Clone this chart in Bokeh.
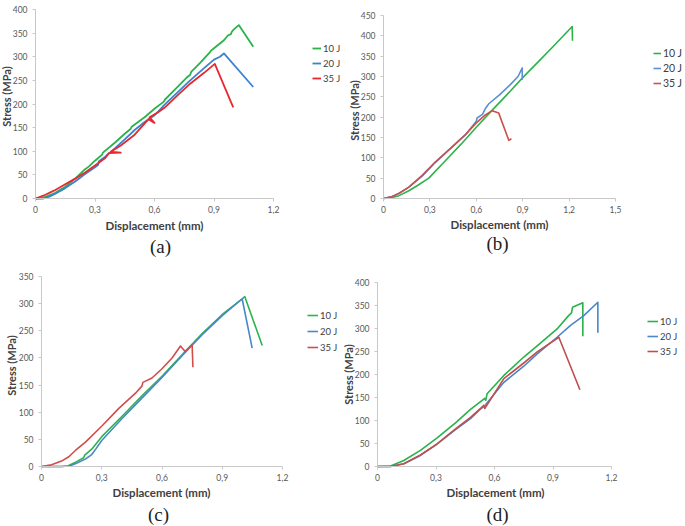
import math

from bokeh.plotting import figure
from bokeh.layouts import column, row
from bokeh.models import Range1d, FixedTicker, Legend, LegendItem, LinearAxis, Label
from bokeh.embed import file_html
from bokeh.resources import INLINE

# ---------------- data: displacement (mm) / stress (MPa) ----------------
series_labels = ["10 J", "20 J", "35 J"]

# panel (a)
a_10J_x = [0, 0.03, 0.06, 0.1, 0.15, 0.2, 0.25, 0.27, 0.3, 0.336, 0.34, 0.4, 0.45, 0.479, 0.485,
           0.55, 0.6, 0.647, 0.652, 0.72, 0.76, 0.78, 0.785, 0.83, 0.88, 0.885, 0.9, 0.95, 0.97,
           0.985, 0.99, 1.0, 1.025, 1.098]
a_10J_y = [0, 1, 5, 12, 25, 42, 62, 68, 80, 93, 97, 118, 137, 147, 152,
           172, 190, 205, 209, 238, 255, 262, 268, 287, 310, 313, 318, 335, 345,
           348, 353, 358, 367, 321]
a_20J_x = [0, 0.04, 0.07, 0.1, 0.15, 0.2, 0.25, 0.3, 0.315, 0.32, 0.35, 0.4, 0.45, 0.5, 0.55,
           0.597, 0.61, 0.65, 0.72, 0.78, 0.85, 0.9, 0.93, 0.95, 1.098]
a_20J_y = [0, 0, 4, 10, 22, 36, 52, 66, 71, 79, 88, 106, 125, 145, 162,
           175, 180, 198, 226, 250, 276, 294, 300, 307, 236]
a_35J_x = [0, 0.02, 0.05, 0.08, 0.1, 0.15, 0.2, 0.25, 0.3, 0.35, 0.37, 0.43, 0.38, 0.43, 0.5,
           0.57, 0.6, 0.575, 0.62, 0.65, 0.72, 0.78, 0.85, 0.904, 0.997]
a_35J_y = [0, 3, 8, 14, 18, 30, 42, 55, 70, 85, 96, 97, 99, 112, 135,
           168, 160, 172, 183, 192, 220, 243, 266, 285, 193]

# panel (b)
b_10J_x = [0, 0.05, 0.1, 0.164, 0.22, 0.293, 0.4, 0.5, 0.6, 0.7, 0.8, 0.897, 1.0, 1.1, 1.2,
           1.22, 1.222]
b_10J_y = [0, 2, 7, 19, 32, 50, 93, 133, 175, 216, 256, 296, 336, 375, 415,
           423, 388]
b_20J_x = [0, 0.05, 0.1, 0.164, 0.25, 0.336, 0.43, 0.53, 0.6, 0.605, 0.64, 0.66, 0.681, 0.75,
           0.82, 0.87, 0.897, 0.897]
b_20J_y = [0, 4, 12, 28, 55, 89, 122, 157, 190, 198, 207, 222, 233, 255,
           280, 300, 321, 292]
b_35J_x = [0, 0.05, 0.1, 0.164, 0.25, 0.336, 0.43, 0.53, 0.6, 0.653, 0.703, 0.745, 0.81, 0.827]
b_35J_y = [0, 4, 13, 28, 57, 90, 122, 157, 186, 204, 216, 210, 143, 147]

# panel (c)
c_10J_x = [0, 0.1, 0.13, 0.17, 0.21, 0.215, 0.25, 0.3, 0.4, 0.5, 0.6, 0.7, 0.8, 0.9, 1.0,
           1.012, 1.099]
c_10J_y = [0, 0, 1, 8, 16, 21, 32, 55, 92, 130, 166, 206, 245, 280, 309,
           313, 223]
c_20J_x = [0, 0.1, 0.14, 0.18, 0.22, 0.25, 0.27, 0.3, 0.4, 0.5, 0.6, 0.7, 0.8, 0.9, 0.999,
           1.049]
c_20J_y = [0, 0, 1, 7, 14, 22, 32, 48, 88, 126, 164, 204, 243, 278, 309,
           218]
c_35J_x = [0, 0.05, 0.1, 0.136, 0.17, 0.219, 0.302, 0.385, 0.468, 0.5, 0.505, 0.55, 0.6, 0.65,
           0.692, 0.715, 0.75, 0.754]
c_35J_y = [0, 3, 10, 18, 30, 45, 75, 107, 135, 148, 155, 163, 180, 200,
           222, 212, 224, 183]

# panel (d)
d_10J_x = [0, 0.067, 0.135, 0.22, 0.306, 0.4, 0.477, 0.55, 0.555, 0.562, 0.648, 0.75, 0.819,
           0.921, 0.98, 0.995, 1.0, 1.053, 1.053]
d_10J_y = [0, 1, 13, 35, 62, 95, 124, 148, 144, 158, 198, 238, 262,
           299, 328, 334, 346, 356, 283]
d_20J_x = [0, 0.067, 0.135, 0.22, 0.306, 0.4, 0.477, 0.528, 0.55, 0.648, 0.75, 0.819, 0.921,
           0.99, 1.058, 1.13, 1.13]
d_20J_y = [0, 0, 6, 24, 49, 80, 104, 125, 132, 183, 218, 245, 281,
           307, 328, 357, 291]
d_35J_x = [0, 0.067, 0.135, 0.22, 0.306, 0.4, 0.477, 0.53, 0.545, 0.55, 0.648, 0.75, 0.819,
           0.93, 1.038]
d_35J_y = [0, 0, 6, 25, 49, 82, 107, 127, 133, 126, 191, 225, 249,
           281, 167]

x_ticks_12 = [0, 0.3, 0.6, 0.9, 1.2]
x_ticks_15 = [0, 0.3, 0.6, 0.9, 1.2, 1.5]
x_tick_text = {0: "0", 0.3: "0,3", 0.6: "0,6", 0.9: "0,9", 1.2: "1,2", 1.5: "1,5"}

SANS = "Lato"
AXIS_GREY = "#c8c8c8"
TEXT_GREY = "#595959"
TITLE_GREY = "#404040"


def make_panel(tag, curves, colors, line_w, x_ticks, y_max, size, plot_box, texts, legend_px,
               legend_gap=1, legend_glyph=8, legend_font="9.5px"):
    """plot_box = (x of 0, x of last tick, y of 0, y of y_max) in panel pixels (from top-left).
    texts = ((x, y) of y title, (x, y) of x title, (x, y) of caption) in panel pixels."""
    w, h = size
    x0, x1, y0, y1 = plot_box
    x_max = x_ticks[-1]
    sx = (x1 - x0) / x_max          # px per mm
    sy = (y0 - y1) / y_max          # px per MPa

    def at(px, py):
        return (px - x0) / sx, (y0 - py) / sy

    p = figure(width=w, height=h, output_backend="svg", toolbar_location=None, title=None,
               x_range=Range1d(-x0 / sx, (w - x0) / sx),
               y_range=Range1d(-(h - y0) / sy, y0 / sy),
               x_axis_location=None, y_axis_location=None, min_border=0)
    p.frame_align = False
    p.outline_line_color = None
    p.grid.visible = False
    p.background_fill_color = "white"
    p.border_fill_color = "white"

    xa = LinearAxis(fixed_location=0, bounds=(0, x_max), ticker=FixedTicker(ticks=x_ticks),
                    major_label_overrides={t: x_tick_text[t] for t in x_ticks},
                    major_label_standoff=4)
    ya = LinearAxis(fixed_location=0, bounds=(0, y_max),
                    ticker=FixedTicker(ticks=list(range(0, y_max + 1, 50))),
                    major_label_standoff=5)
    for ax in (xa, ya):
        ax.axis_line_color = AXIS_GREY
        ax.major_tick_line_color = AXIS_GREY
        ax.major_tick_in = 0
        ax.major_tick_out = 3
        ax.minor_tick_line_color = None
        ax.major_label_text_font = SANS
        ax.major_label_text_font_size = "8.5px"
        ax.major_label_text_color = TEXT_GREY
    p.add_layout(xa, "below")
    p.add_layout(ya, "left")

    # axis titles and the panel caption
    (ytx, yty), (xtx, xty), (cx, cy) = texts
    lx, ly = at(ytx, yty)
    p.add_layout(Label(x=lx, y=ly, text="Stress (MPa)", angle=math.pi / 2,
                       text_align="center", text_baseline="middle", text_font=SANS,
                       text_font_size="11px", text_font_style="bold", text_color=TITLE_GREY))
    lx, ly = at(xtx, xty)
    p.add_layout(Label(x=lx, y=ly, text="Displacement (mm)",
                       text_align="center", text_baseline="middle", text_font=SANS,
                       text_font_size="11.5px", text_font_style="bold", text_color=TITLE_GREY))
    lx, ly = at(cx, cy)
    p.add_layout(Label(x=lx, y=ly, text=tag, text_align="center", text_baseline="middle",
                       text_font="Liberation Serif", text_font_size="19px",
                       text_color="#222222"))

    items = []
    for label, (xs, ys), c in zip(series_labels, curves, colors):
        r = p.line(xs, ys, line_color=c, line_width=line_w, line_join="round")
        items.append(LegendItem(label=label, renderers=[r]))

    # legend to the right of the curves; location is its lower-left corner in px
    gx, top_row = legend_px
    leg_h = 3 * 14 + 2 * legend_gap
    leg = Legend(items=items, location=(gx, h - (top_row - 7) - leg_h), orientation="vertical")
    leg.border_line_color = None
    leg.background_fill_alpha = 0
    leg.padding = 0
    leg.margin = 0
    leg.spacing = legend_gap
    leg.glyph_width = legend_glyph
    leg.glyph_height = 14
    leg.label_height = 14
    leg.label_standoff = 2
    leg.label_text_font = SANS
    leg.label_text_font_size = legend_font
    leg.label_text_color = TITLE_GREY
    p.add_layout(leg)
    return p


pa = make_panel("(a)", [(a_10J_x, a_10J_y), (a_20J_x, a_20J_y), (a_35J_x, a_35J_y)],
                ["#2bb24c", "#3b82d0", "#e8282e"], 1.8, x_ticks_12, 400,
                (340, 260), (35, 273, 198, 9),
                ((6, 96), (154, 225), (160, 246)), (312, 48), legend_glyph=9)
pb = make_panel("(b)", [(b_10J_x, b_10J_y), (b_20J_x, b_20J_y), (b_35J_x, b_35J_y)],
                ["#2fb24a", "#5b8fd6", "#c9504d"], 1.6, x_ticks_15, 450,
                (345, 260), (43, 275, 198, 15),
                ((14, 110), (159, 224), (157, 243)), (313, 53), legend_font="10.5px")
pc = make_panel("(c)", [(c_10J_x, c_10J_y), (c_20J_x, c_20J_y), (c_35J_x, c_35J_y)],
                ["#2eb34d", "#4a86c8", "#cf4d4d"], 1.6, x_ticks_12, 350,
                (340, 266), (41, 282, 206, 16),
                ((11, 105), (161, 232), (158, 254)), (307, 55), legend_gap=2, legend_glyph=11)
pd_ = make_panel("(d)", [(d_10J_x, d_10J_y), (d_20J_x, d_20J_y), (d_35J_x, d_35J_y)],
                 ["#27b24a", "#4a86c8", "#c0504d"], 1.6, x_ticks_12, 400,
                 (345, 266), (37, 271, 206, 22),
                 ((8, 114), (155, 232), (157, 254)), (307, 61), legend_glyph=11)

layout = column(row(pa, pb, spacing=0), row(pc, pd_, spacing=0), spacing=0)

with open("out.html", "w") as f:
    f.write(file_html(layout, INLINE))
